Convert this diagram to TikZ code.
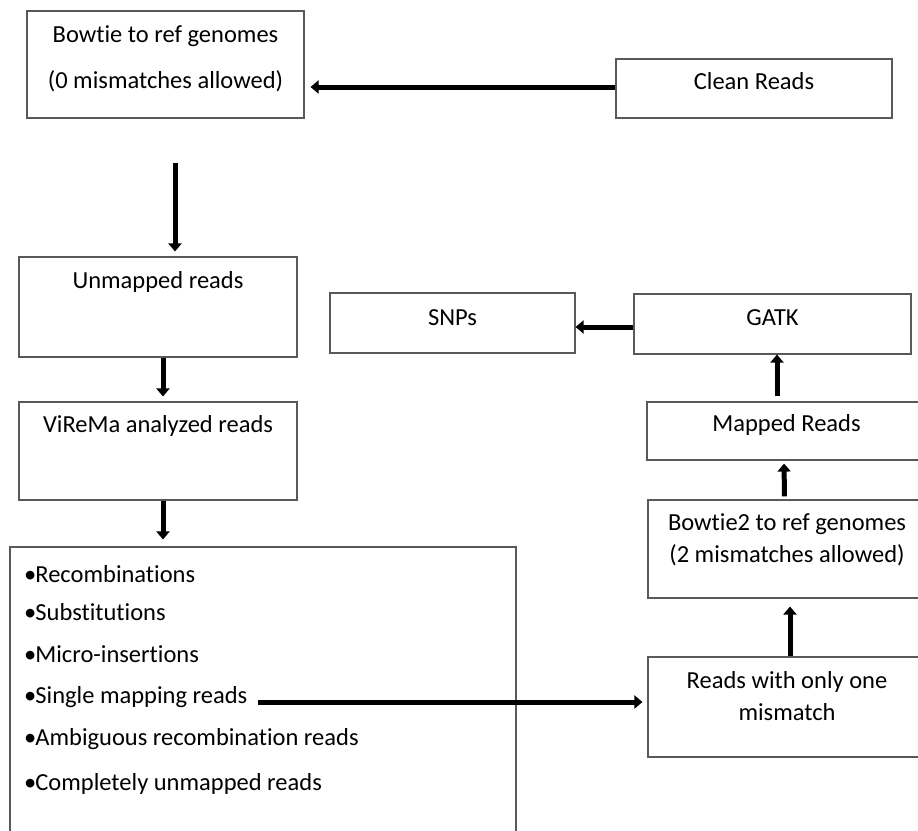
\documentclass[tikz,border=0pt]{standalone}
\usepackage{fontspec}
\setmainfont{Carlito}[Ligatures=NoCommon]
\usetikzlibrary{arrows.meta}
\tikzset{box/.style={draw=black!65, line width=1.1pt, inner sep=0pt},
  lbl/.style={font=\fontsize{24.5}{28}\selectfont, anchor=base, inner sep=0pt},
  item/.style={font=\fontsize{24.5}{28}\selectfont, anchor=base west, inner sep=0pt},
  flow/.style={line width=5pt, -{Triangle[length=8pt,width=13pt]}}}

\begin{document}
\begin{tikzpicture}[x=1pt,y=-1pt]
  \useasboundingbox (0,0) rectangle (918,830);
  \clip (0,0) rectangle (918,830);
  % left column
  \node[box, minimum width=277pt, minimum height=107pt] (bowtie)   at (165.5,64.5) {};
  \node[box, minimum width=276pt, minimum height=59pt]  (clean)    at (754,88.5) {};
  \node[box, minimum width=278pt, minimum height=100pt] (unmapped) at (158,307) {};
  \node[box, minimum width=278pt, minimum height=98pt]  (virema)   at (158,451) {};
  \node[box, minimum width=506pt, minimum height=303pt] (list)     at (263,698.5) {};
  % right column
  \node[box, minimum width=245pt, minimum height=60pt]  (snps)     at (452.5,323) {};
  \node[box, minimum width=277pt, minimum height=60pt]  (gatk)     at (772.5,324) {};
  \node[box, minimum width=279pt, minimum height=58pt]  (mapped)   at (786.5,431) {};
  \node[box, minimum width=278pt, minimum height=98pt]  (bowtie2)  at (787,549) {};
  \node[box, minimum width=278pt, minimum height=100pt] (onemis)   at (787,707) {};

  \node[lbl] (bowtieA) at (165.5,42) {Bowtie to ref genomes};
  \node[lbl] (bowtieB) at (165.5,88) {(0 mismatches allowed)};
  \node[lbl] (cleanT) at (754,89) {Clean Reads};
  \node[lbl] (unmappedT) at (158,288) {Unmapped reads};
  \node[lbl] (viremaT) at (158,432) {ViReMa analyzed reads};
  \node[lbl] (snpsT) at (452.5,325) {SNPs};
  \node[lbl] (gatkT) at (772.5,325) {GATK};
  \node[lbl] (mappedT) at (786.5,431) {Mapped Reads};
  \node[lbl] (bowtie2A) at (787,530) {Bowtie2 to ref genomes};
  \node[lbl] (bowtie2B) at (787,562) {(2 mismatches allowed)};
  \node[lbl] (onemisA) at (787,688) {Reads with only one};
  \node[lbl] (onemisB) at (787,720) {mismatch};

  \node[item] (recomb) at (24,582) {•\kern-1pt Recombinations};
  \node[item] (subst)  at (24,620) {•\kern-1pt Substitutions};
  \node[item] (micro)  at (24,662) {•\kern-1pt Micro-insertions};
  \node[item] (single) at (24,703) {•\kern-1pt Single mapping reads};
  \node[item] (ambig)  at (24,745) {•\kern-1pt Ambiguous recombination reads};
  \node[item] (compl)  at (24,790) {•\kern-1pt Completely unmapped reads};

  % arrows
  \coordinate (below) at (175,163);
  \coordinate (fromsingle) at (258,702);
  \draw[flow, shorten >=6pt] ([yshift=1.5pt]clean.west) -- ([yshift=1.5pt]bowtie.east |- clean.west);
  \draw[flow, shorten >=5pt] (below) -- (below |- unmapped.north);
  \draw[flow, shorten >=5pt] ([xshift=5pt]unmapped.south) -- ([xshift=5pt]virema.north);
  \draw[flow, shorten >=7pt] ([xshift=5pt]virema.south) -- ([xshift=-100pt]list.north);
  \draw[flow, shorten >=5pt] (fromsingle) -- (fromsingle -| onemis.west);
  \draw[flow, shorten >=8pt] ([xshift=3pt]onemis.north) -- ([xshift=3pt]bowtie2.south);
  \draw[flow, shorten <=3pt, shorten >=3pt] ([xshift=-2.5pt]bowtie2.north) -- ([xshift=-2.5pt]mapped.south);
  \draw[flow, shorten <=5pt] ([xshift=-9.5pt]mapped.north) -- ([xshift=4.5pt]gatk.south);
  \draw[flow] ([yshift=-3pt]gatk.west) -- ([yshift=-3pt]gatk.west -| snps.east);
\end{tikzpicture}
\end{document}
